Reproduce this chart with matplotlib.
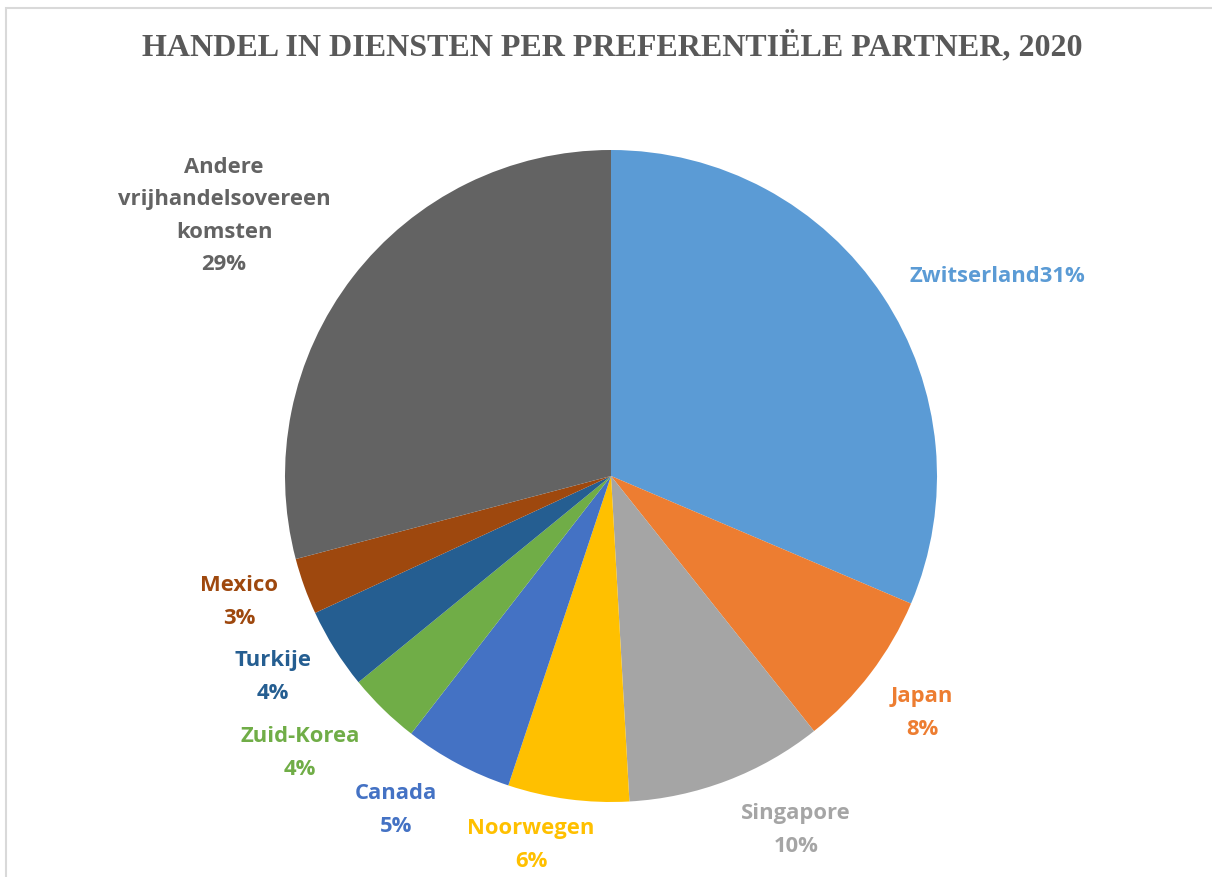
import matplotlib
matplotlib.use("Agg")
import matplotlib.pyplot as plt
from matplotlib.patches import Rectangle

categories = ["Zwitserland", "Japan", "Singapore", "Noorwegen", "Canada",
              "Zuid-Korea", "Turkije", "Mexico", "Andere\nvrijhandelsovereen\nkomsten"]
values = [31.4, 7.9, 9.8, 6.0, 5.4, 3.6, 4.0, 2.8, 29.1]
colors = ["#5B9BD5", "#ED7D31", "#A5A5A5", "#FFC000", "#4472C4",
          "#70AD47", "#255E91", "#9E480E", "#636363"]
title = "HANDEL IN DIENSTEN PER PREFERENTIËLE PARTNER, 2020"

W, H = 1212, 877
fig = plt.figure(figsize=(W / 100, H / 100), dpi=100)
fig.patch.set_facecolor("white")

# outer frame (chart area border)
fig.patches.append(Rectangle((6 / W, -0.1), 1.2, (H - 8) / H + 0.1,
                             transform=fig.transFigure, fill=False,
                             edgecolor="#D9D9D9", linewidth=1.5))

cx, cy, r = 611, 476, 326
ax = fig.add_axes([(cx - r) / W, (H - cy - r) / H, 2 * r / W, 2 * r / H])
ax.pie(values, colors=colors, startangle=90, counterclock=False, radius=1.0,
       wedgeprops=dict(linewidth=0))
ax.set_xlim(-1, 1)
ax.set_ylim(-1, 1)
ax.set_aspect("equal")
ax.axis("off")

fig.text(0.505, (H - 47) / H, title, ha="center", va="center",
         fontsize=23, fontweight="bold", family="Liberation Serif", color="#595959")

label_pix = [(997, 277), (922, 713), (796, 830), (531, 845), (396, 810),
             (300, 753), (273, 677), (239, 602), (224, 216)]
total = sum(values)
for name, v, col, (px, py) in zip(categories, values, colors, label_pix):
    pct = f"{round(v / total * 100)}%"
    if name == "Zwitserland":
        txt = name + pct
    else:
        txt = name + "\n" + pct
    ax.text((px - cx) / r, (cy - py) / r, txt, ha="center", va="center",
            fontsize=15.8, fontweight="bold", family="Open Sans", color=col,
            linespacing=1.72)

fig.savefig("out.png", dpi=100, facecolor="white")
